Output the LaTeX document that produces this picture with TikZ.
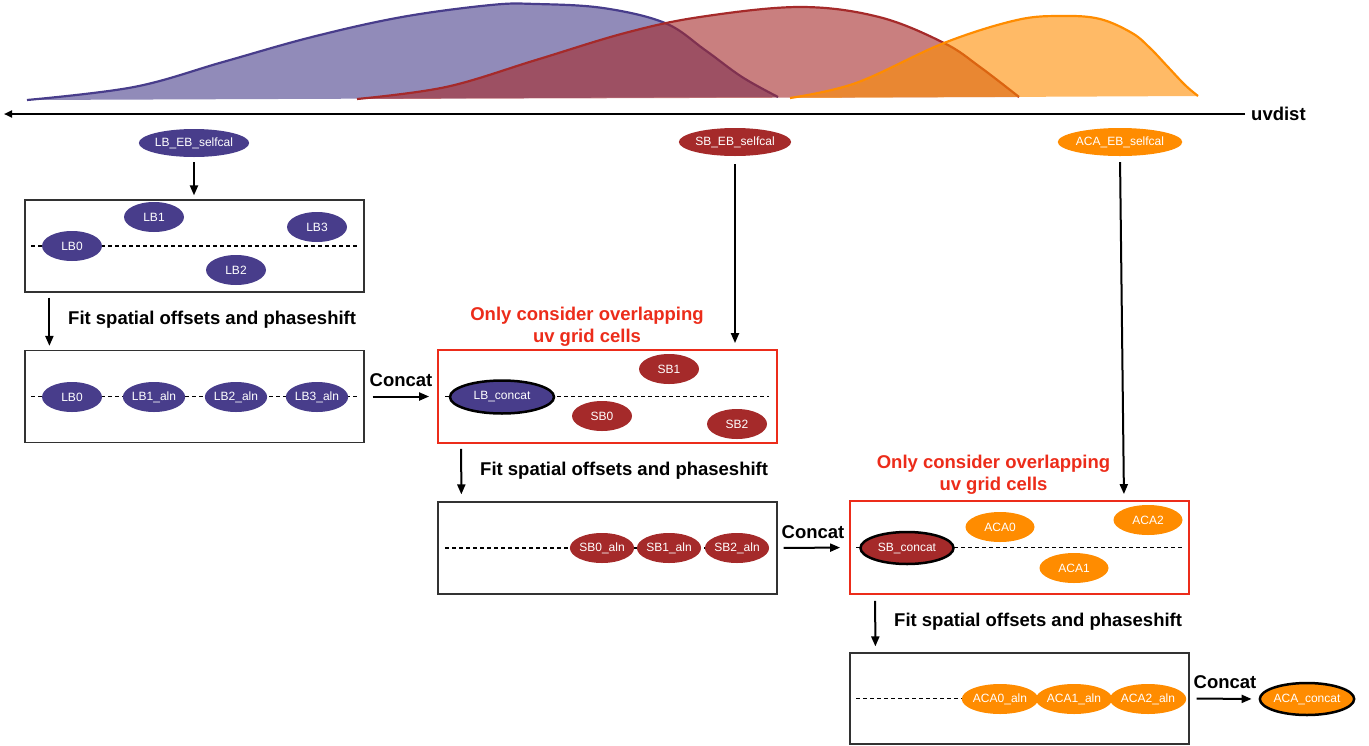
\documentclass[tikz,border=0pt]{standalone}
\usepackage{fontspec}
\setmainfont{Liberation Sans}
\usetikzlibrary{shapes.geometric,arrows.meta,calc}
\definecolor{lbc}{RGB}{72,61,139}
\definecolor{sbc}{RGB}{165,42,42}
\definecolor{acac}{RGB}{255,140,0}
\definecolor{redc}{RGB}{236,44,26}
\definecolor{boxc}{RGB}{50,50,50}
\begin{document}
\begin{tikzpicture}[x=1pt,y=-1pt,
  eb/.style={ellipse, inner sep=0pt, minimum width=60pt, minimum height=30pt, text=white, font=\fontsize{12}{14}\selectfont},
  lb/.style={eb, fill=lbc},
  sb/.style={eb, fill=sbc},
  aca/.style={eb, fill=acac, minimum width=69pt},
  concatnode/.style={draw=black, line width=2.5pt},
  stagebox/.style={draw=boxc, line width=1.2pt, minimum width=339pt, minimum height=92pt, inner sep=0pt},
  redbox/.style={draw=redc, line width=1.8pt, minimum width=339pt, minimum height=93pt, inner sep=0pt},
  arr/.style={-{Triangle[length=10pt,width=8pt]}, line width=2pt},
  lbl/.style={font=\fontsize{18.5}{22}\selectfont\bfseries, inner sep=0pt},
  redlbl/.style={lbl, text=redc, align=center},
  dline/.style={dash pattern=on 4pt off 3pt, line width=1.6pt},
  curve/.style={line width=2.2pt},
]
\useasboundingbox (0,0) rectangle (1369,745);

% distributions
\fill[lbc, fill opacity=0.6] plot[smooth, tension=0.6] coordinates {(27,100) (134,87) (223,62) (312,37) (402,17) (491,5) (536,4) (603,8) (665,23) (705,50) (742,77) (778,97)} -- cycle;
\draw[lbc, curve] plot[smooth, tension=0.6] coordinates {(27,100) (134,87) (223,62) (312,37) (402,17) (491,5) (536,4) (603,8) (665,23) (705,50) (742,77) (778,97)};
\fill[sbc, fill opacity=0.6] plot[smooth, tension=0.6] coordinates {(357,99) (446,87) (536,60) (625,33) (700,17) (800,7) (879,17) (944,43) (980,67) (1019,97)} -- cycle;
\draw[sbc, curve] plot[smooth, tension=0.6] coordinates {(357,99) (446,87) (536,60) (625,33) (700,17) (800,7) (879,17) (944,43) (980,67) (1019,97)};
\fill[acac, fill opacity=0.6] plot[smooth, tension=0.6] coordinates {(790,98) (856,83) (944,43) (1017,20) (1063,16) (1100,19) (1132,33) (1150,48) (1168,67) (1185,85) (1198,96)} -- cycle;
\draw[acac, curve] plot[smooth, tension=0.6] coordinates {(790,98) (856,83) (944,43) (1017,20) (1063,16) (1100,19) (1132,33) (1150,48) (1168,67) (1185,85) (1198,96)};

% axis
\node[lbl, anchor=west] (uvdist) at (1251,114) {uvdist};
\coordinate (axisend) at (4,114);
\draw[-{Triangle[length=8pt,width=7pt]}, line width=2pt, shorten <=6pt] (uvdist.west) -- (axisend);

% top nodes
\node[lb, minimum width=100pt, minimum height=28pt] (lbeb) at (194,143) {LB\_EB\_selfcal};
\node[sb, minimum width=110pt, minimum height=28pt] (sbeb) at (735,142) {SB\_EB\_selfcal};
\node[aca, minimum width=111pt, minimum height=28pt] (acaeb) at (1120,142) {ACA\_EB\_selfcal};

% boxes
\node[stagebox] (box1) at (194.5,246) {};
\node[stagebox] (box2) at (194.5,396.5) {};
\node[redbox] (redbox2) at (607.5,396.5) {};
\node[stagebox] (box3) at (607.5,548) {};
\node[redbox] (redbox3) at (1019.5,547.5) {};
\node[stagebox, minimum height=91pt] (box4) at (1019.5,698.5) {};

% dashed lines
\draw[dline] ([xshift=7pt]box1.west) -- ([xshift=-8pt]box1.east);
\draw[dline] ([xshift=7pt]box2.west) -- ([xshift=-8pt]box2.east);
\draw[dline] ([xshift=8pt]redbox2.west) -- ([xshift=-9pt]redbox2.east);
\draw[dline] ([xshift=8pt]box3.west) -- ([xshift=-12pt]box3.east);
\draw[dline] ([xshift=7pt]redbox3.west) -- ([xshift=-7pt]redbox3.east);
\draw[dline] ([xshift=7pt]box4.west) -- ([xshift=-10pt]box4.east);

% LB box 1
\node[lb] (lb0) at (72,246) {LB0};
\node[lb] (lb1) at (154,217) {LB1};
\node[lb] (lb3) at (317,227) {LB3};
\node[lb] (lb2) at (236,270) {LB2};

% LB box 2
\node[lb] (lb0b) at (72,397) {LB0};
\node[lb] (lb1aln) at (154,397) {LB1\_aln};
\node[lb] (lb2aln) at (236,397) {LB2\_aln};
\node[lb] (lb3aln) at (317,397) {LB3\_aln};

% SB red box
\node[lb, concatnode, minimum width=104pt, minimum height=33pt] (lbconcat) at (502,397) {LB\_concat};
\node[sb] (sb1) at (669,369) {SB1};
\node[sb] (sb0) at (602,416) {SB0};
\node[sb] (sb2) at (737,424) {SB2};

% SB aligned
\node[sb] (sb0aln) at (602,548) {SB0\_aln};
\node[sb] (sb1aln) at (669,548) {SB1\_aln};
\node[sb] (sb2aln) at (737,548) {SB2\_aln};

% ACA red box
\node[sb, concatnode, minimum width=93pt, minimum height=32pt] (sbconcat) at (907,548) {SB\_concat};
\node[aca] (aca0) at (1000,527) {ACA0};
\node[aca] (aca2) at (1148,520) {ACA2};
\node[aca] (aca1) at (1074,568) {ACA1};

% ACA aligned
\node[aca] (aca0aln) at (1000,699) {ACA0\_aln};
\node[aca] (aca1aln) at (1074,699) {ACA1\_aln};
\node[aca] (aca2aln) at (1148,699) {ACA2\_aln};
\node[aca, concatnode, minimum width=94pt, minimum height=32pt] (acaconcat) at (1307,699) {ACA\_concat};

% labels
\node[lbl, anchor=west] (fit1) at (68,320) {Fit spatial offsets and phaseshift};
\node[lbl, anchor=west] (fit2) at (480,471) {Fit spatial offsets and phaseshift};
\node[lbl, anchor=west] (fit3) at (894,622) {Fit spatial offsets and phaseshift};
\node[redlbl] (only2) at (587,327) {Only consider overlapping\\uv grid cells};
\node[redlbl] (only3) at (993.5,475) {Only consider overlapping\\uv grid cells};
\node[lbl] (concat1) at (401,380) {Concat};
\node[lbl] (concat2) at (813,532) {Concat};
\node[lbl] (concat3) at (1225,682) {Concat};

% arrows
\draw[arr, shorten <=5pt, shorten >=4pt] (lbeb.south) -- (lbeb.south |- box1.north);
\draw[arr, shorten <=8pt, shorten >=6pt] (sbeb.south) -- (sbeb.south |- redbox2.north);
\draw[arr, shorten <=6pt, shorten >=6pt] (acaeb.south) -- ([xshift=104.5pt]redbox3.north);
\draw[arr, shorten <=5pt, shorten >=4pt] ([xshift=25pt]box1.south west) -- ([xshift=25pt]box2.north west);
\draw[arr, shorten <=5pt, shorten >=7pt] ([xshift=24pt]redbox2.south west) -- ([xshift=24pt]box3.north west);
\draw[arr, shorten <=6pt, shorten >=6pt] ([xshift=26pt]redbox3.south west) -- ([xshift=26pt]box4.north west);
\draw[arr, shorten <=8pt, shorten >=8pt] (box2.east) -- (redbox2.west);
\draw[arr, shorten <=6pt, shorten >=9pt] (box3.east) -- (redbox3.west);
\draw[arr, shorten <=7pt, shorten >=7pt] (box4.east) -- (acaconcat.west);
\end{tikzpicture}
\end{document}
